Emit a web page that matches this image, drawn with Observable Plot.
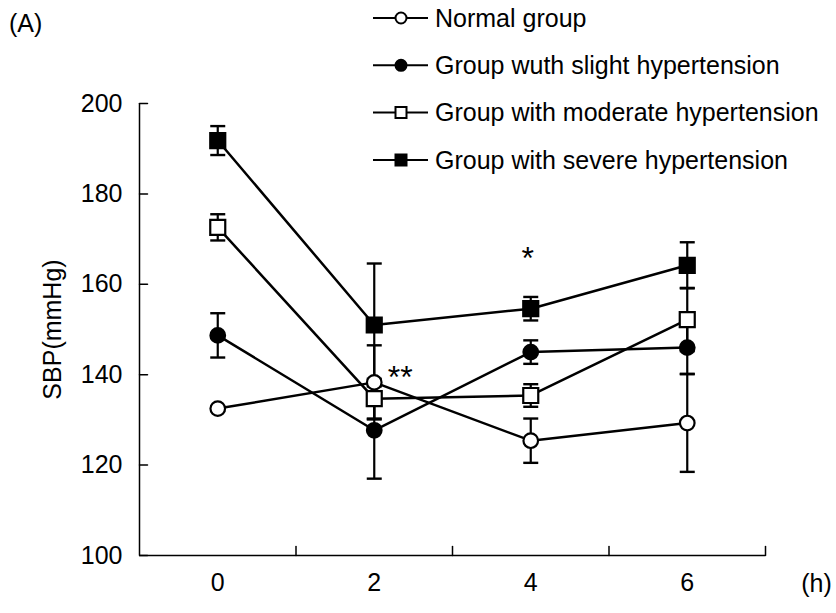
<!DOCTYPE html>
<html><head><meta charset="utf-8">
<script src="https://cdn.jsdelivr.net/npm/d3@7"></script>
<script src="https://cdn.jsdelivr.net/npm/@observablehq/plot@0.6"></script>
<style>
body{margin:0;background:#fff;font-family:"Liberation Sans",Arial,sans-serif;}
#wrap{position:relative;width:836px;height:613px;}
#overlay{position:absolute;left:0;top:0;pointer-events:none;}
</style></head><body><div id="wrap"></div>
<script>
// ---- data ----
const times = [0, 2, 4, 6];
const groupNames = ["Normal group", "Group wuth slight hypertension", "Group with moderate hypertension", "Group with severe hypertension"];
const normalMean   = [132.5, 138.3, 125.4, 129.3];
const normalSD     = [0.5, 8.2, 4.9, 10.8];
const slightMean   = [148.7, 127.7, 145.0, 146.0];
const slightSD     = [4.9, 10.7, 2.6, 5.8];
const moderateMean = [172.6, 134.7, 135.4, 152.2];
const moderateSD   = [2.9, 4.4, 2.5, 7.0];
const severeMean   = [191.8, 151.0, 154.6, 164.2];
const severeSD     = [3.2, 13.6, 2.6, 5.1];
const yTicks = [100, 120, 140, 160, 180, 200];
const xBoundaryTicks = [1, 3, 5, 7];
const sigTimes = [2, 4];
const sigLabels = ["**", "*"];
const sigY = [140.3, 166.0];
const panelLabel = "(A)";
const yLabel = "SBP(mmHg)";
const xUnit = "(h)";

// ---- styles ----
const FONT = 25;
const FONT_FAMILY = '"Liberation Sans", Arial, sans-serif';
const sqR = 15 / Math.sqrt(Math.PI); // square side ~15px
const markerStyles = [
  {symbol: "circle", fill: "white", r: 7.3},
  {symbol: "circle", fill: "black", r: 7.3},
  {symbol: "square", fill: "white", r: sqR},
  {symbol: "square", fill: "black", r: sqR}
];
const means = [normalMean, slightMean, moderateMean, severeMean];
const sds = [normalSD, slightSD, moderateSD, severeSD];
const rows = groupNames.flatMap((g, gi) => times.map((t, ti) => ({group: g, gi, time: t, mean: means[gi][ti], sd: sds[gi][ti]})));
const sig = sigTimes.map((t, i) => ({time: t, y: sigY[i], label: sigLabels[i]}));

const capSymbol = {draw(ctx, size) { const w = Math.sqrt(size / Math.PI); ctx.moveTo(-w, 0); ctx.lineTo(w, 0); }};
const tickShape = {draw(ctx, l) { ctx.moveTo(0, 0); ctx.lineTo(0, -l); }};

const chart = Plot.plot({
  width: 836, height: 613,
  marginLeft: 139, marginRight: 71, marginTop: 103, marginBottom: 58,
  style: {fontFamily: FONT_FAMILY, color: "black", background: "white"},
  x: {domain: [-1, 7]},
  y: {domain: [100, 200]},
  marks: [
    Plot.ruleX([-1], {stroke: "black", strokeWidth: 1.5}),
    Plot.ruleY([100], {stroke: "black", strokeWidth: 1.5}),
    Plot.vector(yTicks, {x: () => -1, y: d => d, rotate: 90, length: 8, anchor: "start", shape: tickShape, stroke: "black", strokeWidth: 1.5}),
    Plot.vector(xBoundaryTicks, {x: d => d, y: () => 100, rotate: 0, length: 9, anchor: "start", shape: tickShape, stroke: "black", strokeWidth: 1.5}),
    Plot.axisY({ticks: yTicks, tickSize: 0, tickPadding: 17, label: null, fontSize: FONT}),
    Plot.axisX({ticks: times, tickSize: 0, tickPadding: 18, label: null, fontSize: FONT}),
    Plot.text([yLabel], {frameAnchor: "left", textAnchor: "middle", lineAnchor: "middle", rotate: -90, dx: -87, fontSize: FONT, text: d => d}),
    Plot.text([xUnit], {frameAnchor: "bottom-right", textAnchor: "middle", lineAnchor: "middle", dx: 51, dy: 28, fontSize: FONT, text: d => d}),
    Plot.line(rows, {x: "time", y: "mean", z: "group", stroke: "black", strokeWidth: 2.5}),
    Plot.ruleX(rows, {x: "time", y1: d => d.mean - d.sd, y2: d => d.mean + d.sd, stroke: "black", strokeWidth: 2.2}),
    Plot.dot(rows, {x: "time", y: d => d.mean + d.sd, symbol: capSymbol, r: 7.5, stroke: "black", strokeWidth: 2.4}),
    Plot.dot(rows, {x: "time", y: d => d.mean - d.sd, symbol: capSymbol, r: 7.5, stroke: "black", strokeWidth: 2.4}),
    ...markerStyles.map((s, gi) => Plot.dot(rows.filter(d => d.gi === gi), {x: "time", y: "mean", symbol: s.symbol, r: s.r, fill: s.fill, stroke: "black", strokeWidth: 2.2})),
    Plot.text(sig.filter(d => d.label === "**"), {x: "time", y: "y", text: "label", fontSize: 32, dx: 26, dy: 4}),
    Plot.text(sig.filter(d => d.label === "*"), {x: "time", y: "y", text: "label", fontSize: 32, dx: -3, dy: 2})
  ]
});
const wrap = document.getElementById("wrap");
wrap.appendChild(chart);

// ---- legend overlay ----
const ov = d3.select(wrap).append("svg").attr("id", "overlay").attr("width", 836).attr("height", 613)
  .style("font-family", FONT_FAMILY);
ov.append("text").attr("x", 9).attr("y", 23).attr("dy", "0.35em").attr("font-size", FONT).text(panelLabel);
const lg = ov.selectAll("g.item").data(groupNames).join("g").attr("class", "item")
  .attr("transform", (d, i) => `translate(373,${18 + i * 47.3})`);
lg.append("line").attr("x1", 0).attr("x2", 55).attr("stroke", "black").attr("stroke-width", 2);
lg.append("path")
  .attr("d", (d, i) => markerStyles[i].symbol === "circle"
    ? d3.symbol(d3.symbolCircle, Math.PI * 5.5 * 5.5)()
    : d3.symbol(d3.symbolSquare, 11 * 11)())
  .attr("transform", "translate(28,0)")
  .attr("fill", (d, i) => markerStyles[i].fill).attr("stroke", "black").attr("stroke-width", 2);
lg.append("text").attr("x", 62).attr("dy", "0.35em").attr("font-size", FONT).text(d => d);
</script>
</body></html>
